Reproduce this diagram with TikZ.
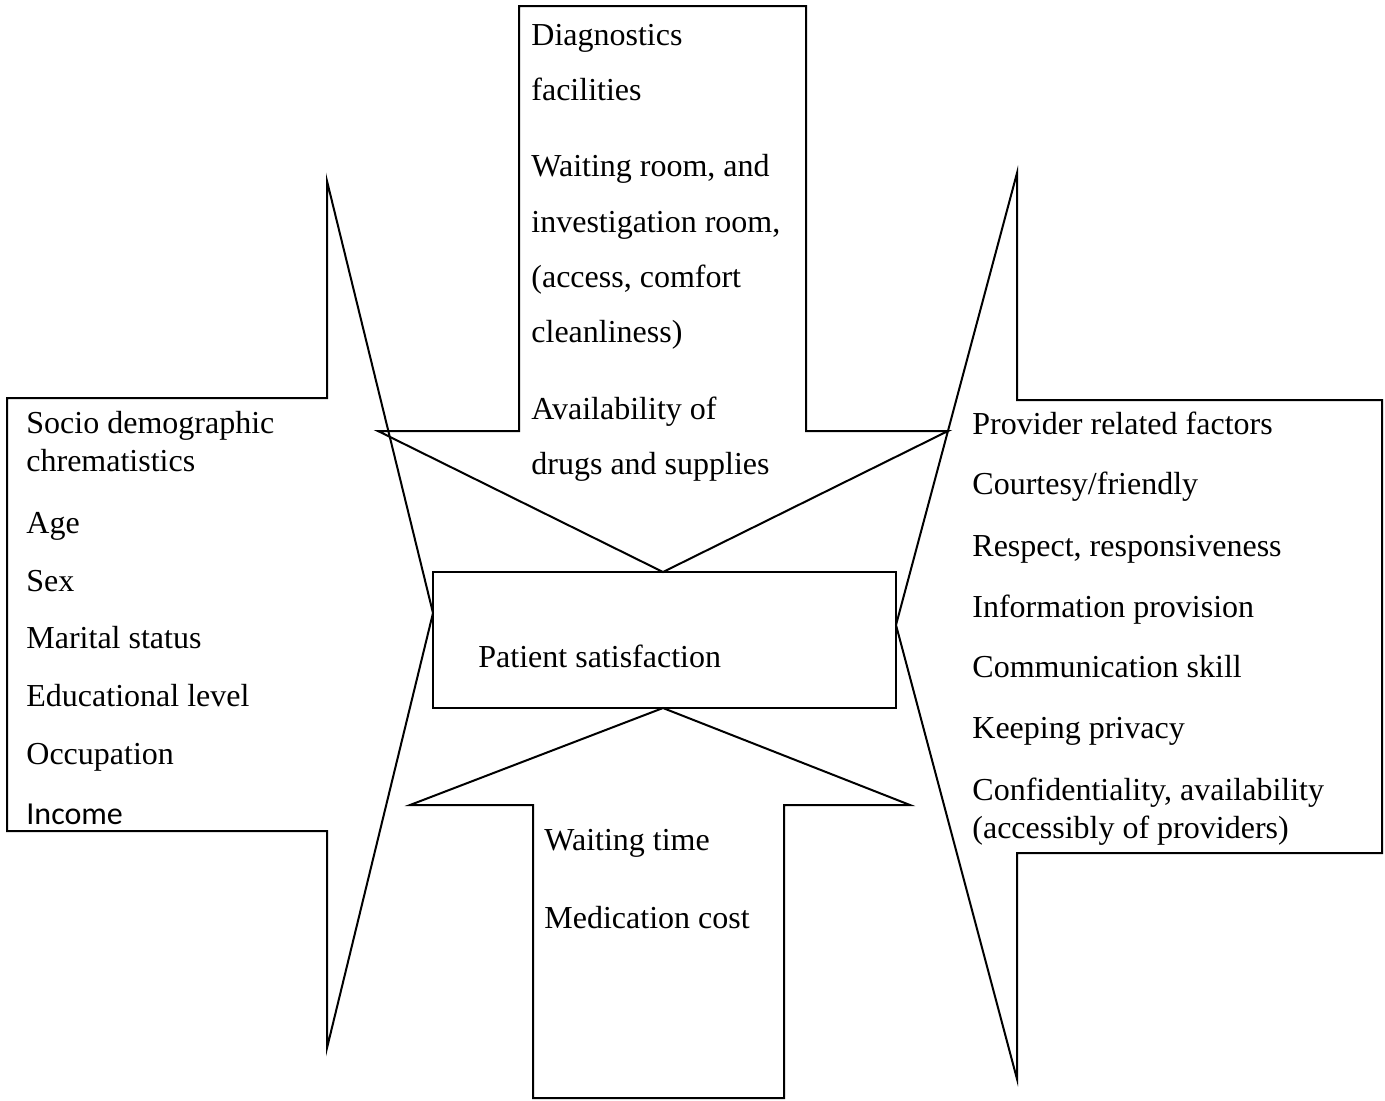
\documentclass[tikz,border=0pt]{standalone}
\usepackage{fontspec}
\setmainfont{Liberation Serif}
\newfontfamily\incfont{Carlito}
\begin{document}
\begin{tikzpicture}[x=0.5pt,y=-0.5pt,
  shape line/.style={draw=black,line width=1pt,line join=miter},
  txt/.style={anchor=base west,inner sep=0pt,font=\fontsize{16}{19}\selectfont},
  inc/.style={anchor=base west,inner sep=0pt,font=\incfont\fontsize{16}{19}\selectfont}]
\useasboundingbox (0,0) rectangle (1385,1100);
% arrow outlines
\draw[shape line] (7,398) -- (327,398) -- (327,181) -- (433,613) -- (327,1048) -- (327,831) -- (7,831) -- cycle;
\draw[shape line] (519,6) -- (806,6) -- (806,431) -- (948,431) -- (663,572) -- (378,431) -- (519,431) -- cycle;
\draw[shape line] (1382,400) -- (1017,400) -- (1017,173) -- (896,625) -- (1017,1079) -- (1017,853) -- (1382,853) -- cycle;
\draw[shape line] (533,1098) -- (533,805) -- (410,805) -- (663,708) -- (910,805) -- (784,805) -- (784,1098) -- cycle;
\draw[shape line] (433,572) rectangle (896,708);
% left texts
\node[txt] (l1) at (26,433) {Socio demographic};
\node[txt] (l2) at (26,471) {chrematistics};
\node[txt] (l3) at (26,533) {Age};
\node[txt] (l4) at (26,591) {Sex};
\node[txt] (l5) at (26,648) {Marital status};
\node[txt] (l6) at (26,706) {Educational level};
\node[txt] (l7) at (26,764) {Occupation};
\node[inc] (l8) at (26,824) {Income};
% top texts
\node[txt] (t1) at (531,45) {Diagnostics};
\node[txt] (t2) at (531,100) {facilities};
\node[txt] (t3) at (531,176) {Waiting room, and};
\node[txt] (t4) at (531,232) {investigation room,};
\node[txt] (t5) at (531,287) {(access, comfort};
\node[txt] (t6) at (531,342) {cleanliness)};
\node[txt] (t7) at (531,419) {Availability of};
\node[txt] (t8) at (531,474) {drugs and supplies};
% right texts
\node[txt] (r1) at (972,434) {Provider related factors};
\node[txt] (r2) at (972,494) {Courtesy/friendly};
\node[txt] (r3) at (972,556) {Respect, responsiveness};
\node[txt] (r4) at (972,617) {Information provision};
\node[txt] (r5) at (972,677) {Communication skill};
\node[txt] (r6) at (972,738) {Keeping privacy};
\node[txt] (r7) at (972,800) {Confidentiality, availability};
\node[txt] (r8) at (972,838) {(accessibly of providers)};
% bottom texts
\node[txt] (b1) at (544,850) {Waiting time};
\node[txt] (b2) at (544,928) {Medication cost};
% centre
\node[txt] (c) at (478,667) {Patient satisfaction};
\end{tikzpicture}
\end{document}
